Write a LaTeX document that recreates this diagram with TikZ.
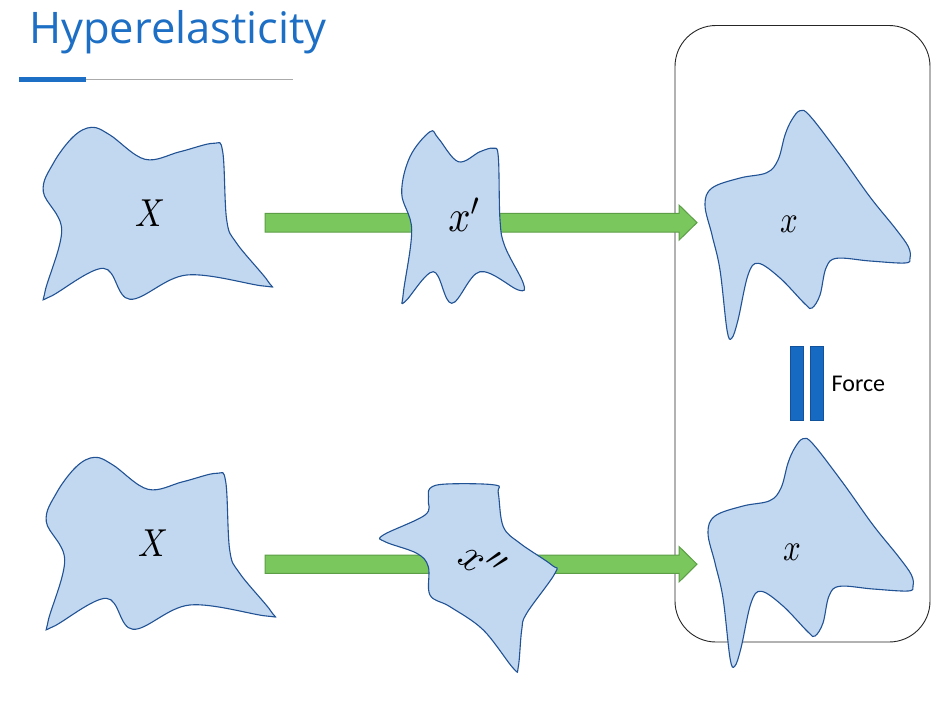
\documentclass[tikz,border=0pt]{standalone}
\usepackage{fontspec}
\newfontfamily\titlefont{Open Sans}
\newfontfamily\labelfont{Carlito}
\definecolor{blobfill}{RGB}{194,215,240}
\definecolor{blobline}{RGB}{32,82,148}
\definecolor{arrfill}{RGB}{122,199,94}
\definecolor{arrline}{RGB}{92,158,70}
\definecolor{titleblue}{RGB}{28,111,196}
\definecolor{barblue}{RGB}{22,106,194}
\definecolor{barline}{RGB}{18,82,155}
\definecolor{rulegray}{RGB}{170,170,170}
\begin{document}
\begin{tikzpicture}[x=1pt,y=-1pt,
  blob/.style={fill=blobfill,draw=blobline,line width=1.1pt},
  bigarrow/.style={fill=arrfill,draw=arrline,line width=1pt},
  mathlbl/.style={inner sep=0pt,transform shape},
  forcebar/.style={fill=barblue,draw=barline,line width=0.6pt,minimum width=13.3pt,minimum height=74pt,inner sep=0pt}]
\fill[white] (0,0) rectangle (945,704);
\useasboundingbox (0,0) rectangle (945,704);
% title
\node[inner sep=0pt,anchor=base west,text=titleblue,font=\titlefont\fontsize{43.5}{48}\selectfont] (title) at (29,43.5) {Hyperelasticity};
\fill[titleblue] (19,76.7) rectangle (86,81.7);
\draw[rulegray,line width=0.8pt] (86,79.3) -- (293,79.3);
% frame
\node[draw=black!85,line width=0.9pt,rounded corners=41pt,minimum width=255pt,minimum height=616.5pt,inner sep=0pt] (frame) at (802.5,333.75) {};
% arrows
\draw[bigarrow] (265,213.3) -- (679,213.3) -- (679,205) -- (697,222.6) -- (679,240.2) -- (679,232) -- (265,232) -- cycle;
\draw[bigarrow] (265,555) -- (679,555) -- (679,546.5) -- (697,564.2) -- (679,582) -- (679,573.3) -- (265,573.3) -- cycle;
% blob A (top left)
\draw[blob] plot[smooth cycle,tension=0.6] coordinates {(91.7,127.3) (110,135) (145,159.3) (180,151.7) (213.3,143.3) (222.7,151.7) (226.7,220) (236.7,243.3) (268.3,281.7) (263.3,286) (186.7,275) (130,299.3) (103.3,268.3) (50,296.7) (45,291.7) (61.7,230) (43.3,191.7) (53.3,163.3) (73.3,136.7)};
\node[mathlbl,xscale=3.3,yscale=3.9] (X1) at (150,213) {$X$};
% blob A' (bottom left)
\begin{scope}[shift={(3,330)}]
\draw[blob] plot[smooth cycle,tension=0.6] coordinates {(91.7,127.3) (110,135) (145,159.3) (180,151.7) (213.3,143.3) (222.7,151.7) (226.7,220) (236.7,243.3) (268.3,281.7) (263.3,286) (186.7,275) (130,299.3) (103.3,268.3) (50,296.7) (45,291.7) (61.7,230) (43.3,191.7) (53.3,163.3) (73.3,136.7)};
\end{scope}
\node[mathlbl,xscale=3.3,yscale=3.9] (X2) at (153,543) {$X$};
% blob B (x')
\draw[blob] plot[smooth cycle,tension=0.6] coordinates {(430,131.7) (438.3,138.3) (458.3,161.7) (480,151.7) (493.3,148.3) (498.3,156.7) (500,220) (505,246.7) (523.3,283.3) (518.3,290) (480,271.7) (451.7,303.3) (433.3,271.7) (405,301.7) (403.3,293.3) (411.7,230) (401.7,193.3) (410,156.7)};
\node[mathlbl,xscale=3.9,yscale=4.5] (xp) at (465,215) {$x'$};
% blob D (x'')
\draw[blob] plot[smooth cycle,tension=0.6] coordinates {(430,488.3) (446.7,484) (495,485) (498.3,493.3) (503.3,526.7) (520,543.3) (551.7,565) (555,573.3) (526.7,613.3) (521.7,630) (518.3,666.7) (513.3,668.3) (483.3,630) (450,606.7) (430,595) (428.3,566.7) (416.7,553.3) (385,541.7) (383.3,535) (425,515) (428.3,500)};
\node[mathlbl,rotate=-38,xscale=3.9,yscale=4.5] (xpp) at (484,561) {$x''$};
% blob C (top right)
\draw[blob] plot[smooth cycle,tension=0.6] coordinates {(791.7,120) (800,110.7) (810,116) (840,155) (870,197) (895,228) (908.3,246.7) (910,258) (905,263) (870,261) (836.7,258.3) (826,268) (820,295) (812,308) (805,304) (780,278) (758.3,263.3) (748,275) (738,320) (731.7,338.3) (727,330) (720,270) (712,235) (705,205) (712,188) (740,178) (766.7,172.7) (778,160) (785,135)};
\node[mathlbl,xscale=3.1,yscale=3.8] (x1) at (789,224) {$x$};
% blob C' (bottom right)
\begin{scope}[shift={(3,328)}]
\draw[blob] plot[smooth cycle,tension=0.6] coordinates {(791.7,120) (800,110.7) (810,116) (840,155) (870,197) (895,228) (908.3,246.7) (910,258) (905,263) (870,261) (836.7,258.3) (826,268) (820,295) (812,308) (805,304) (780,278) (758.3,263.3) (748,275) (738,320) (731.7,338.3) (727,330) (720,270) (712,235) (705,205) (712,188) (740,178) (766.7,172.7) (778,160) (785,135)};
\end{scope}
\node[mathlbl,xscale=3.1,yscale=3.8] (x2) at (792,552) {$x$};
% force
\node[forcebar] (bar1) at (796.7,383) {};
\node[forcebar] (bar2) at (816.7,383) {};
\node[inner sep=0pt,anchor=base west,font=\labelfont\fontsize{24}{28}\selectfont] (force) at (831.5,391.7) {Force};
\end{tikzpicture}
\end{document}
